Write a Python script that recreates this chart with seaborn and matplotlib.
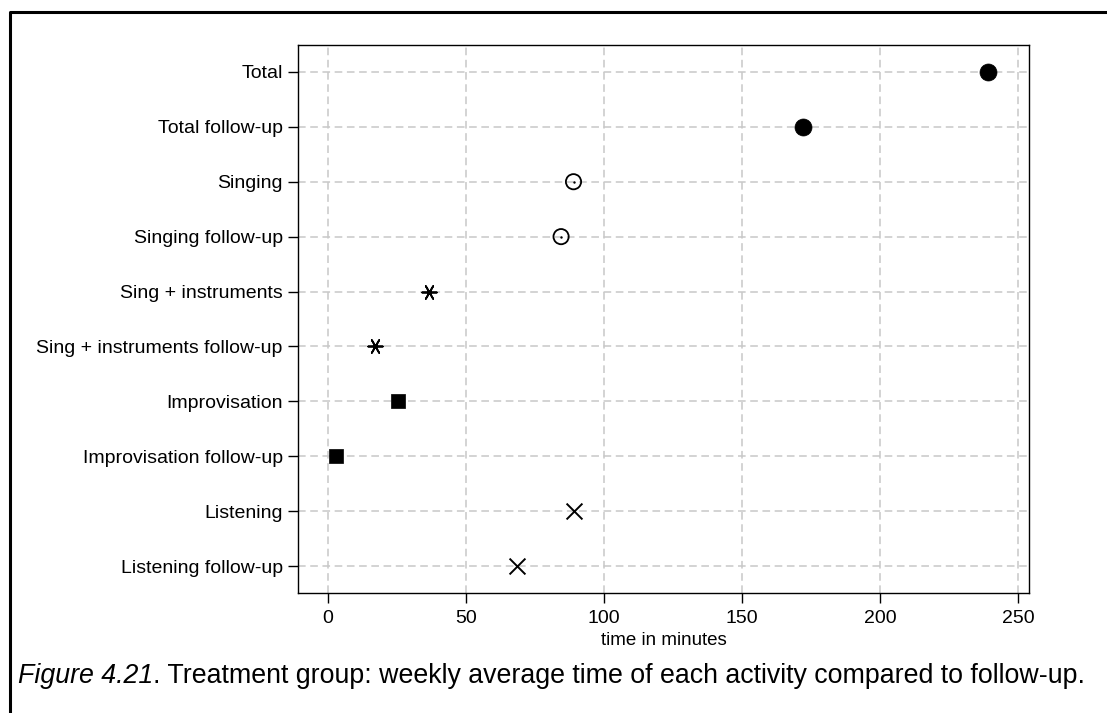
import pandas as pd
import matplotlib.pyplot as plt
import seaborn as sns
from matplotlib.lines import Line2D

# dados
activities = ["Total", "Total follow-up",
              "Singing", "Singing follow-up",
              "Sing + instruments", "Sing + instruments follow-up",
              "Improvisation", "Improvisation follow-up",
              "Listening", "Listening follow-up"]
minutes = [239, 172, 89, 84.5, 36.5, 17, 25.5, 3, 89, 68.5]
groups = ["Total", "Total", "Singing", "Singing", "Sing+instr", "Sing+instr",
          "Improvisation", "Improvisation", "Listening", "Listening"]
x_ticks = [0, 50, 100, 150, 200, 250]

df = pd.DataFrame({"activity": activities, "minutes": minutes, "group": groups})

sns.set_theme(style="white")
plt.rcParams['font.family'] = ['Liberation Sans', 'DejaVu Sans']
plt.rcParams['text.color'] = 'black'

fig = plt.figure(figsize=(11.07, 7.13), dpi=100)
ax = fig.add_axes([298 / 1107, 1 - 593 / 713, (1029 - 298) / 1107, (593 - 45) / 713])

# estilos de marcador por grupo
estilos = {
    "Total": dict(marker="o", s=150, color="black", edgecolor="black", linewidth=0.5),
    "Singing": dict(marker="o", s=120, facecolor="none", edgecolor="black", linewidth=1.3),
    "Sing+instr": dict(marker=(6, 2, 90), s=110, color="black", linewidth=1.3),  # asterisco com traço horizontal
    "Improvisation": dict(marker="s", s=95, color="black", edgecolor="black", linewidth=0.5),
    "Listening": dict(marker="x", s=130, color="black", linewidth=1.4),
}

for g, kw in estilos.items():
    sub = df[df["group"] == g]
    sns.scatterplot(data=sub, x="minutes", y="activity", ax=ax, zorder=3, legend=False, **kw)
    if g == "Singing":
        # ponto pequeno no centro do círculo
        sns.scatterplot(data=sub, x="minutes", y="activity", ax=ax, zorder=4,
                        legend=False, marker="o", s=3, color="black", linewidth=0)

ax.set_xlim(-10.8, 254)
ax.set_ylim(9.49, -0.49)
ax.set_xticks(x_ticks)
ax.set_yticks(range(len(activities)))
ax.set_yticklabels(activities)

ax.grid(True, color="#c8c8c8", linestyle=(0, (5, 3)), linewidth=1.1)
ax.set_axisbelow(True)
for sp in ax.spines.values():
    sp.set_color("black")
    sp.set_linewidth(1.0)
ax.tick_params(axis="both", direction="out", length=7, width=1.0, color="black",
               labelsize=14, labelcolor="black", left=True, bottom=True)
ax.tick_params(axis="y", pad=4)
ax.tick_params(axis="x", pad=5)
ax.set_xlabel("time in minutes", fontsize=13.5, labelpad=4, color="black")
ax.set_ylabel("")

# legenda da figura
cap_size = 19.3
t1 = fig.text(18 / 1107, 1 - 676 / 713, "Figure 4.21", fontsize=cap_size, style="italic",
              va="center", ha="left", color="black")
fig.canvas.draw()
bb = t1.get_window_extent()
fig.text(bb.x1 / 1107, 1 - 676 / 713,
         ". Treatment group: weekly average time of each activity compared to follow-up.",
         fontsize=cap_size, va="center", ha="left", color="black")

# moldura
fig.add_artist(Line2D([10 / 1107, 10 / 1107, 1], [0, 1 - 12 / 713, 1 - 12 / 713],
                      transform=fig.transFigure, color="black", linewidth=2.2))

plt.savefig("out.png", dpi=100)
